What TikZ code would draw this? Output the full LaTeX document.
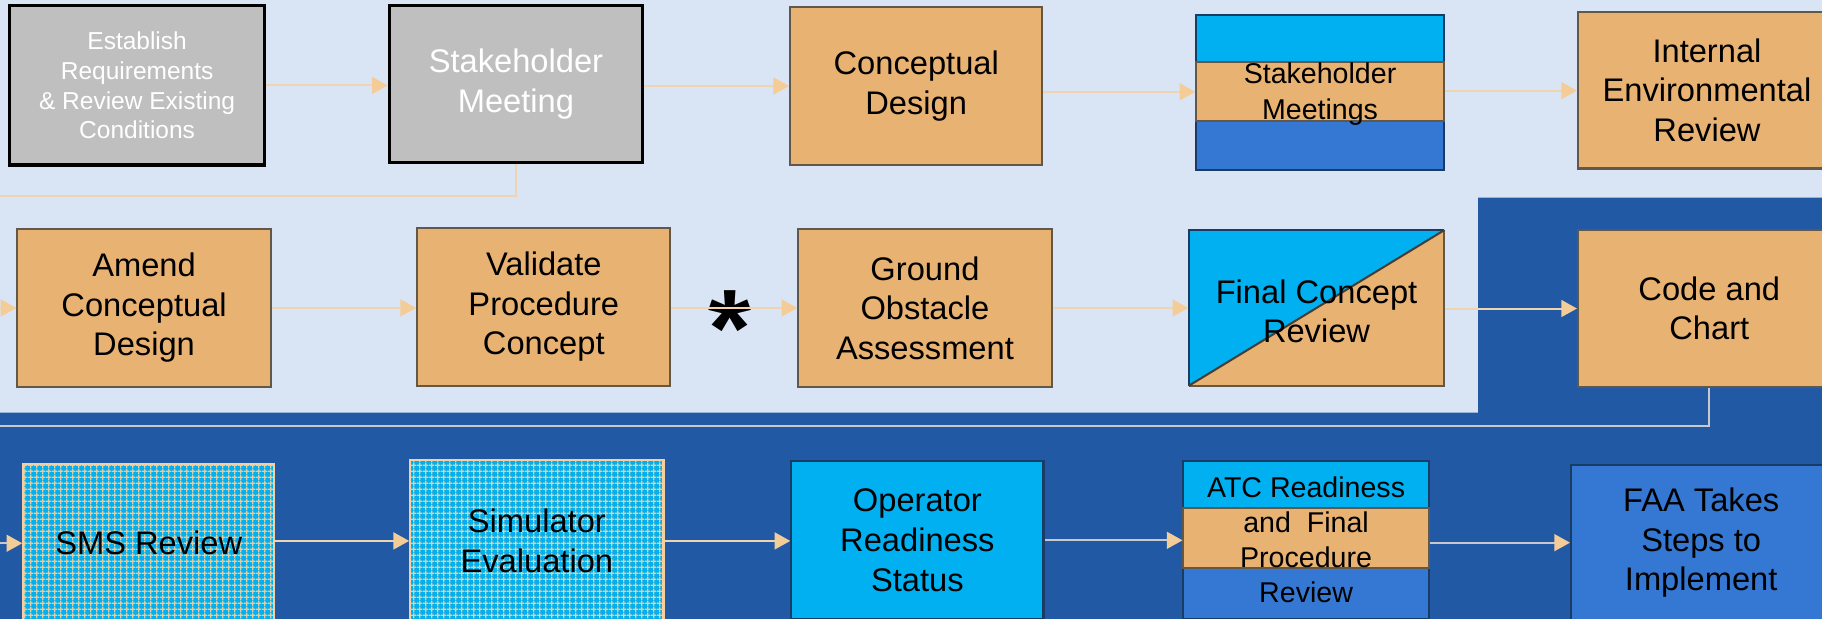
\documentclass[tikz,border=0pt]{standalone}
\usepackage{fontspec}
\setmainfont{Liberation Sans}
\usetikzlibrary{arrows.meta,patterns.meta}
\definecolor{lightbg}{RGB}{217,229,245}
\definecolor{darkbg}{RGB}{33,89,165}
\definecolor{tanfill}{RGB}{232,178,115}
\definecolor{tanborder}{RGB}{98,88,74}
\definecolor{grayfill}{RGB}{191,191,191}
\definecolor{cyanc}{RGB}{0,176,240}
\definecolor{bluec}{RGB}{53,120,212}
\definecolor{navy}{RGB}{24,60,100}
\definecolor{arrline}{RGB}{240,212,175}
\definecolor{arrhead}{RGB}{244,204,152}
\definecolor{wrapgray}{RGB}{200,200,205}
\definecolor{gridtan}{RGB}{240,200,150}
\definecolor{patedge}{RGB}{245,207,160}
\tikzdeclarepattern{
  name=fgrid,
  type=uncolored,
  bounding box={(0pt,0pt) and (2.8pt,2.8pt)},
  tile size={(2.8pt,2.8pt)},
  code={\draw[line width=0.7pt] (0pt,1.4pt) -- (2.8pt,1.4pt) (1.4pt,0pt) -- (1.4pt,2.8pt);}
}
\begin{document}
\begin{tikzpicture}[x=0.02cm,y=-0.02cm,
  sz/.style 2 args={minimum width=#1*0.02cm, minimum height=#2*0.02cm},
  base/.style={rectangle, inner sep=0pt, align=center, text=black},
  f16/.style={font=\fontsize{16}{19.4}\selectfont},
  f14/.style={font=\fontsize{14}{17.2}\selectfont},
  tanbox/.style={base, f16, fill=tanfill, draw=tanborder, line width=1pt},
  graybox/.style={base, fill=grayfill, draw=black, line width=1.5pt, text=white},
  patbox/.style={base, f16, preaction={fill=cyanc}, pattern=fgrid, pattern color=gridtan, draw=patedge, line width=1pt},
  cyanbox/.style={base, f16, fill=cyanc, draw=navy, line width=1pt},
  bluebox/.style={base, f16, fill=bluec, draw=navy, line width=1pt},
  textonly/.style={base},
  arr/.style={line width=1pt, draw=arrline, -{Triangle[length=0.27cm, width=0.29cm, color=arrhead, fill=arrhead]}},
  arrg/.style={arr, draw=wrapgray}
]
\useasboundingbox (0,0) rectangle (1568,532);
% backgrounds
\fill[lightbg] (-10,-10) rectangle (1580,545);
\fill[darkbg] (1272,170) -- (1580,170) -- (1580,545) -- (-10,545) -- (-10,355) -- (1272,355) -- cycle;

% Row 1
\node[graybox, sz={220}{137}, font=\fontsize{12}{14.6}\selectfont] (est) at (118,73.5) {Establish\\Requirements\\\& Review Existing\\Conditions};
\node[graybox, f16, sz={218}{135}] (stk) at (444,72.5) {Stakeholder\\Meeting};
\node[tanbox, sz={217}{136}] (con) at (788.5,74) {Conceptual\\Design};
% stacked stakeholder meetings
\filldraw[fill=cyanc, draw=navy, line width=1pt] (1029,13) rectangle (1243,53);
\filldraw[fill=bluec, draw=navy, line width=1pt] (1029,104) rectangle (1243,146);
\filldraw[fill=tanfill, draw=tanborder, line width=1pt] (1029,53) rectangle (1243,104);
\node[textonly, f14, sz={214}{133}] (smt) at (1136,81) {Stakeholder\\Meetings};
\node[tanbox, sz={222}{135}] (ier) at (1469,77.5) {Internal\\Environmental\\Review};

% Row 2
\node[tanbox, sz={218}{136}] (amd) at (124,265) {Amend\\Conceptual\\Design};
\node[tanbox, sz={218}{136}] (val) at (468,264) {Validate\\Procedure\\Concept};
\node[tanbox, sz={218}{136}] (gro) at (796,265) {Ground\\Obstacle\\Assessment};
% final concept review split box
\fill[cyanc] (1023,332) -- (1023,198) -- (1243,198) -- cycle;
\fill[tanfill] (1023,332) -- (1243,198) -- (1243,332) -- cycle;
\draw[navy, line width=1pt] (1023,332) -- (1023,198) -- (1243,198);
\draw[tanborder, line width=1pt] (1243,198) -- (1243,332) -- (1023,332);
\draw[tanborder!70!black, line width=1pt] (1023,332) -- (1243,198);
\node[textonly, f16, sz={220}{134}] (fcr) at (1133,268) {Final Concept\\Review};
\node[tanbox, sz={226}{135}] (cod) at (1471,265.5) {Code and\\Chart};
\node[font=\fontsize{54}{54}\bfseries, text=black, inner sep=0pt, anchor=base] (ast) at (628,315) {*};

% Row 3
\node[patbox, sz={216}{136}] (sms) at (128,467.5) {SMS Review};
\node[patbox, sz={218}{139}] (sim) at (462,465.5) {Simulator\\Evaluation};
\node[cyanbox, sz={217}{136}] (ope) at (789.5,465) {Operator\\Readiness\\Status};
% stacked ATC box
\filldraw[fill=cyanc, draw=navy, line width=1pt] (1018,397) rectangle (1230,437);
\filldraw[fill=bluec, draw=navy, line width=1pt] (1018,489) rectangle (1230,533);
\filldraw[fill=tanfill, draw=tanborder, line width=1pt] (1018,437) rectangle (1230,489);
\node[textonly, sz={212}{135}, font=\fontsize{14}{17}\selectfont] (atc) at (1124,464.5) {ATC Readiness\\and~ Final\\Procedure\\Review};
\node[bluebox, sz={224}{134}] (faa) at (1464,467) {FAA Takes\\Steps to\\Implement};

% wrap coordinates
\coordinate (w1) at (-20,169);
\coordinate (w2) at (-20,367);

% connectors row 1
\draw[arr] (est.east) -- (est.east -| stk.west);
\draw[arr] (stk.east |- con.west) -- (con.west);
\draw[arr] (con.east |- 0,79) -- (smt.west |- 0,79);
\draw[arr] (smt.east |- 0,78) -- (ier.west |- 0,78);
% wrap 1
\draw[arr] (stk.south) |- (w1) |- (amd.west);
% row 2
\draw[arr] (amd.east) -- (val.west |- amd.east);
\draw[arr] (val.east |- gro.west) -- (gro.west);
\draw[arr] (gro.east) -- (gro.east -| fcr.west);
\draw[arr] (fcr.east |- cod.west) -- (cod.west);
% wrap 2
\draw[arrg] (cod.south) |- (w2) |- (sms.west);
% row 3
\draw[arr] (sms.east |- sim.west) -- (sim.west);
\draw[arr] (sim.east) -- (sim.east -| ope.west);
\draw[arrg] (ope.east) -- (ope.east -| atc.west);
\draw[arrg] (atc.east |- faa.west) -- (faa.west);
\end{tikzpicture}
\end{document}
